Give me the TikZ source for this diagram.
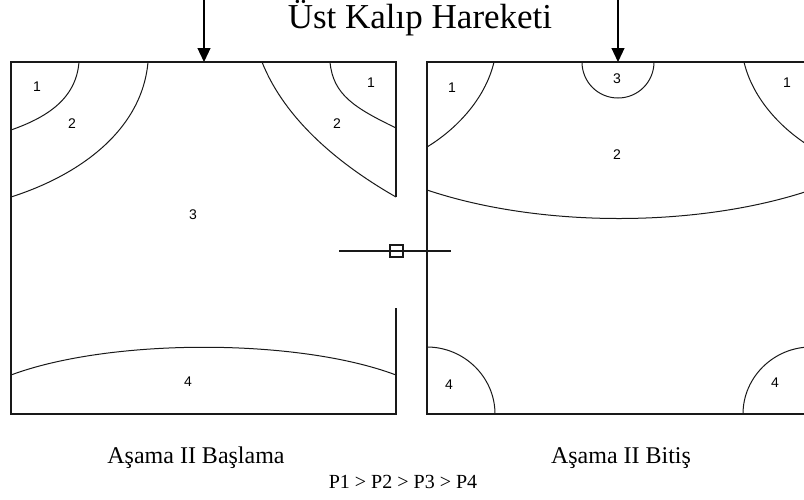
\documentclass[tikz,border=0pt]{standalone}
\usepackage{fontspec}
\setmainfont{Liberation Serif}
\setsansfont{Liberation Sans}
\usetikzlibrary{arrows.meta}

\begin{document}
\begin{tikzpicture}[
  x=1pt, y=-1pt,
  wall/.style={line width=1.3pt, black!90},
  zone/.style={line width=1pt, black!90},
  num/.style={font=\sffamily\fontsize{14}{14}\selectfont, inner sep=0pt},
  ttl/.style={font=\fontsize{35}{35}\selectfont, anchor=base, inner sep=0pt},
  capt/.style={font=\fontsize{24}{24}\selectfont, anchor=base, inner sep=0pt},
  press/.style={-{Triangle[length=14pt, width=13pt]}, line width=1.2pt},
]
\clip (0,0) rectangle (804,499);

% ---- title and press arrows ----
\node[ttl] (title) at (420,28) {Üst Kalıp Hareketi};
\coordinate (pushL) at (204,0);
\coordinate (pushR) at (618,0);
\coordinate (topL)  at (204,62);
\coordinate (topR)  at (618,62);
\draw[press] (pushL) -- (topL);
\draw[press] (pushR) -- (topR);

% ---- left die: start of stage II ----
\draw[wall] (396,197) -- (396,62) -- (11,62) -- (11,414) -- (396,414) -- (396,308);
\draw[zone] (79,62)  .. controls (76,100)  and (45,118)  .. (11,130);
\draw[zone] (148,62) .. controls (142,130) and (80,175)  .. (11,197);
\draw[zone] (330,62) .. controls (333,95)  and (355,108) .. (396,128);
\draw[zone] (262,62) .. controls (285,120) and (340,165) .. (396,197);
\draw[zone] (11,375) .. controls (110,338) and (298,338) .. (396,375);

\node[num] (l1a) at (37,87)   {1};
\node[num] (l2a) at (72,124)  {2};
\node[num] (l1b) at (371,83)  {1};
\node[num] (l2b) at (337,124) {2};
\node[num] (l3)  at (193,215) {3};
\node[num] (l4)  at (188,382) {4};

% ---- cross mark between the dies ----
\draw[wall] (339,251) -- (451,251);
\draw[wall] (390,245) rectangle (403,257);

% ---- right die: end of stage II ----
\draw[wall] (427,62) rectangle (811,414);
\draw[zone] (494,62) .. controls (485,100) and (455,130) .. (427,147);
\draw[zone] (744,62) .. controls (753,100) and (783,130) .. (811,147);
\draw[zone] (582,62) .. controls (582,82)  and (598,98)  .. (618,98)
                     .. controls (638,98)  and (654,82)  .. (654,62);
\draw[zone] (427,190) .. controls (540,228) and (698,228) .. (811,190);
\draw[zone] (427,347) .. controls (464,347) and (495,377) .. (495,414);
\draw[zone] (743,414) .. controls (743,377) and (774,347) .. (811,347);

\node[num] (r1a) at (452,88)  {1};
\node[num] (r3)  at (617,79)  {3};
\node[num] (r1b) at (787,83)  {1};
\node[num] (r2)  at (617,155) {2};
\node[num] (r4a) at (449,385) {4};
\node[num] (r4b) at (775,383) {4};

% ---- captions ----
\node[capt] (startcap) at (196,463) {Aşama II Başlama};
\node[capt] (endcap)   at (621,463) {Aşama II Bitiş};
\node[capt, font=\fontsize{20}{20}\selectfont] (order) at (403,488) {P1 > P2 > P3 > P4};

\end{tikzpicture}
\end{document}
